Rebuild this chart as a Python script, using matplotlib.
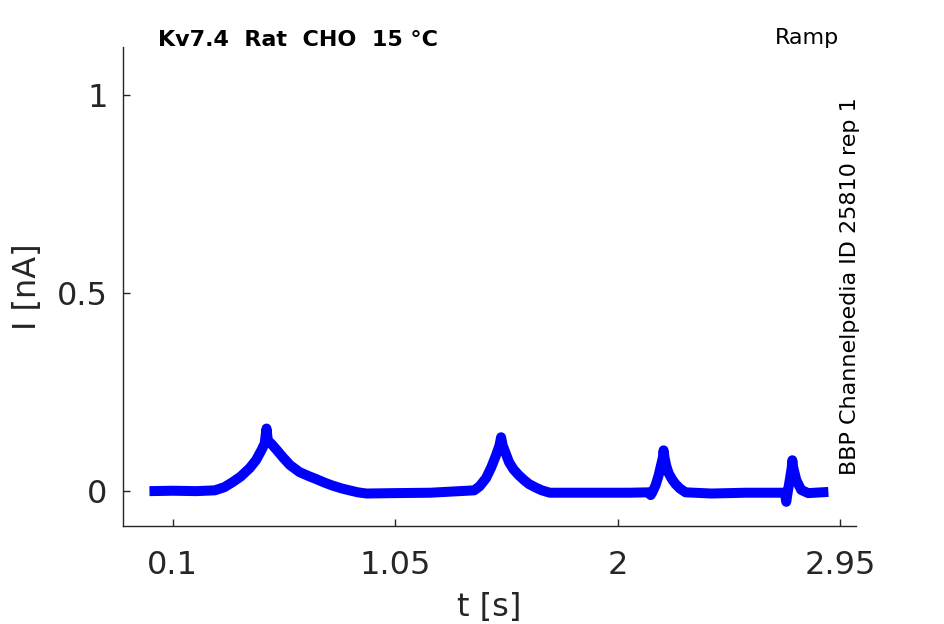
import matplotlib
matplotlib.use("Agg")
import matplotlib.pyplot as plt

# Time [s] and current [nA]
t_s = [0.00, 0.10, 0.20, 0.279, 0.320, 0.356, 0.390, 0.428, 0.455, 0.479,
       0.492, 0.500, 0.506, 0.520, 0.545, 0.569, 0.600, 0.641, 0.680, 0.714,
       0.750, 0.782, 0.820, 0.854, 0.890, 0.927, 1.05, 1.20, 1.387, 1.410,
       1.438, 1.460, 1.480, 1.495, 1.502, 1.509, 1.520, 1.536, 1.555, 1.578,
       1.600, 1.621, 1.650, 1.676, 1.710, 1.90, 2.05, 2.135, 2.141, 2.148,
       2.162, 2.175, 2.185, 2.193, 2.196, 2.200, 2.208, 2.218, 2.232, 2.247,
       2.265, 2.290, 2.40, 2.55, 2.714, 2.720, 2.727, 2.737, 2.744, 2.746,
       2.749, 2.763, 2.784, 2.814, 2.90]
i_nA = [0.000, 0.001, 0.000, 0.002, 0.010, 0.023, 0.037, 0.058, 0.078, 0.104,
        0.120, 0.158, 0.126, 0.120, 0.103, 0.086, 0.066, 0.048, 0.038, 0.030,
        0.021, 0.014, 0.007, 0.002, -0.003, -0.006, -0.005, -0.004, 0.002, 0.012,
        0.033, 0.060, 0.090, 0.115, 0.136, 0.115, 0.098, 0.073, 0.055, 0.040,
        0.028, 0.018, 0.009, 0.002, -0.004, -0.004, -0.004, -0.003, -0.010, -0.003,
        0.015, 0.040, 0.065, 0.085, 0.103, 0.085, 0.063, 0.045, 0.030, 0.018,
        0.007, -0.003, -0.006, -0.004, -0.004, -0.027, 0.000, 0.035, 0.062, 0.078,
        0.062, 0.028, 0.003, -0.005, -0.002]

xticks = [0.1, 1.05, 2.0, 2.95]
xticklabels = ["0.1", "1.05", "2", "2.95"]
yticks = [0, 0.5, 1]
yticklabels = ["0", "0.5", "1"]

fig = plt.figure(figsize=(9.45, 6.24), dpi=100)
ax = fig.add_axes([123/945, 1-526/624, (856-123)/945, (526-47)/624])

ax.plot(t_s, i_nA, color="#0000ff", lw=7.2, solid_joinstyle="round",
        solid_capstyle="butt")

ax.set_xlim(-0.113, 3.018)
ax.set_ylim(-0.088, 1.121)
ax.set_xticks(xticks)
ax.set_xticklabels(xticklabels)
ax.set_yticks(yticks)
ax.set_yticklabels(yticklabels)

for s in ["top", "right"]:
    ax.spines[s].set_visible(False)
for s in ["left", "bottom"]:
    ax.spines[s].set_color("#262626")
    ax.spines[s].set_linewidth(1.0)

ax.tick_params(axis="both", direction="in", length=5, width=1, color="#262626",
               labelsize=23, labelcolor="#262626")
ax.tick_params(axis="x", pad=17)
ax.tick_params(axis="y", pad=11)

ax.set_xlabel("t [s]", fontsize=23, color="#262626", labelpad=8)
ax.set_ylabel("I [nA]", fontsize=23, color="#262626", labelpad=10)

fig.text(158/945, 1-40/624, "Kv7.4  Rat  CHO  15 °C", fontsize=16,
         fontweight="bold", ha="left", va="center", color="black")
fig.text(807/945, 1-38/624, "Ramp", fontsize=16, ha="center", va="center",
         color="black")
fig.text(850/945, 1-286/624, "BBP Channelpedia ID 25810 rep 1", fontsize=16,
         rotation=90, ha="center", va="center", color="black")

fig.savefig("out.png", dpi=100)
